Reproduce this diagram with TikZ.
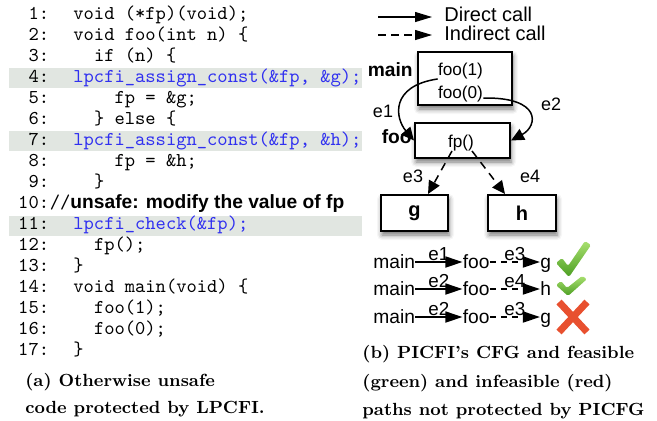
\documentclass[tikz,border=0pt]{standalone}
\usepackage{fontspec}
\usetikzlibrary{arrows.meta,positioning,shadows.blur}
\newfontfamily\cfgfont{Liberation Sans}
\definecolor{LPBand}{HTML}{E1E6E1}
\definecolor{LPBlue}{HTML}{3030F0}
\definecolor{OkTop}{HTML}{A9E070}
\definecolor{OkBot}{HTML}{4C9E22}
\definecolor{BadRed}{HTML}{E8502F}

\tikzset{
  lnum/.style={anchor=base east, inner sep=0pt, font=\ttfamily\fontsize{9.8}{10.5}\selectfont},
  code/.style={anchor=base west, inner sep=0pt, font=\ttfamily\fontsize{9.8}{10.5}\selectfont},
  ind/.style={xshift=11.75pt+#1*5.15pt},
  guard/.style={code, ind=0, text=LPBlue},
  caption/.style={anchor=base west, inner sep=0pt, font=\bfseries\fontsize{8.8}{13.5}\selectfont},
  % call graph
  cfgbox/.style={draw, line width=1pt, fill=white, inner sep=0pt,
    blur shadow={shadow xshift=0.5pt, shadow yshift=-2pt, shadow blur radius=2.5pt, shadow opacity=55}},
  boxtxt/.style={inner sep=0pt, font=\cfgfont\fontsize{8.6}{9}\selectfont},
  fnlbl/.style={inner sep=0pt, font=\cfgfont\bfseries\fontsize{9.6}{10}\selectfont},
  elbl/.style={inner sep=0pt, font=\cfgfont\fontsize{9}{10}\selectfont},
  direct/.style={line width=0.75pt, -{Triangle[length=6.5pt,width=6pt]}},
  indirect/.style={direct, dash pattern=on 4pt off 3pt},
  % legend and paths
  legtxt/.style={anchor=base west, inner sep=0pt, font=\cfgfont\fontsize{10}{11}\selectfont},
  legcall/.style={line width=0.55pt, -{Triangle[length=8.5pt,width=5pt]}},
  pathtxt/.style={inner sep=0pt, text height=0.6em, text depth=0pt, font=\cfgfont\fontsize{9.6}{10}\selectfont},
  plbl/.style={above=0.3pt, inner sep=0pt, font=\cfgfont\fontsize{9.4}{10}\selectfont},
  rowcall/.style={line width=0.85pt, -{Triangle[length=8.5pt,width=5.5pt]}},
  rowicall/.style={rowcall, dash pattern=on 3pt off 2.5pt},
}

\begin{document}
\begin{tikzpicture}[x=0.5pt,y=-0.5pt]
\path[use as bounding box] (0,0) rectangle (657,420);

% highlighted check lines
\foreach \n in {4,7,11}
  \fill[LPBand] (9,{19+21.06*(\n-1)-14}) rectangle (362,{19+21.06*(\n-1)+6});

% line numbers
\foreach \n in {1,...,17}
  \node[lnum] (ln\n) at (49.5,{19+21.06*(\n-1)}) {\n:};

% source code
\node[code, ind=0] (c1) at (ln1.base east) {void (*fp)(void);};
\node[code, ind=0] (c2) at (ln2.base east) {void foo(int n) \{};
\node[code, ind=2] (c3) at (ln3.base east) {if (n) \{};
\node[guard] (c4) at (ln4.base east) {lpcfi\_assign\_const(\&fp, \&g);};
\node[code, ind=4] (c5) at (ln5.base east) {fp = \&g;};
\node[code, ind=2] (c6) at (ln6.base east) {\} else \{};
\node[guard] (c7) at (ln7.base east) {lpcfi\_assign\_const(\&fp, \&h);};
\node[code, ind=4] (c8) at (ln8.base east) {fp = \&h;};
\node[code, ind=2] (c9) at (ln9.base east) {\}};
\node[code] (c10) at (ln10.base east) {//{\cfgfont\bfseries\fontsize{9.6}{10}\selectfont unsafe: modify the value of fp}};
\node[guard] (c11) at (ln11.base east) {lpcfi\_check(\&fp);};
\node[code, ind=2] (c12) at (ln12.base east) {fp();};
\node[code, ind=0] (c13) at (ln13.base east) {\}};
\node[code, ind=0] (c14) at (ln14.base east) {void main(void) \{};
\node[code, ind=2] (c15) at (ln15.base east) {foo(1);};
\node[code, ind=2] (c16) at (ln16.base east) {foo(0);};
\node[code, ind=0] (c17) at (ln17.base east) {\}};

\node[caption] (capa1) at (25,386) {(a) Otherwise unsafe};
\node[caption] (capa2) at (25,413) {code protected by LPCFI.};

% legend
\coordinate (dcs) at (378,17);
\coordinate (dce) at (432,17);
\coordinate (ics) at (378,35);
\coordinate (ice) at (432,35);
\node[legtxt] (dclbl) at (444,21.5) {Direct call};
\node[legtxt] (iclbl) at (444,40) {Indirect call};
\draw[legcall] (dcs) -- (dce);
\draw[legcall, dash pattern=on 4pt off 2.5pt] (ics) -- (ice);

% call graph
\node[cfgbox, minimum width=47pt, minimum height=26.5pt] (mainfn) at (465,78.5) {};
\node[boxtxt, anchor=base] (call1) at (460.5,75) {foo(1)};
\node[boxtxt, anchor=base] (call0) at (460.5,98) {foo(0)};
\node[fnlbl, anchor=base east] (mainlbl) at (413,76) {main};

\node[cfgbox, minimum width=47.5pt, minimum height=17.5pt] (foofn) at (462.5,140.5) {};
\node[boxtxt, anchor=base] (fpcall) at (461,147) {fp()};
\node[fnlbl, anchor=base east] (foolbl) at (412,143) {foo};

\node[cfgbox, minimum width=33.5pt, minimum height=18pt, font=\cfgfont\bfseries\fontsize{10}{11}\selectfont] (gfn) at (414.5,213) {g};
\node[cfgbox, minimum width=34pt, minimum height=18pt, font=\cfgfont\bfseries\fontsize{10}{11}\selectfont] (hfn) at (522,213) {h};

\draw[direct] (call1.south west) .. controls (390,86) and (395,118) .. (foofn.west);
\draw[direct] (call0.base east) .. controls (542,97) and (538,126) .. (foofn.east);
\draw[indirect] ([xshift=-4.5pt]fpcall.south) -- ([xshift=6.75pt]gfn.north);
\draw[indirect] ([xshift=5.5pt]fpcall.south) -- ([xshift=-8.5pt]hfn.north);

\node[elbl] (e1lbl) at (383,111) {e1};
\node[elbl] (e2lbl) at (551,104) {e2};
\node[elbl] (e3lbl) at (413,176) {e3};
\node[elbl] (e4lbl) at (530,176) {e4};

% paths through the graph
\node[pathtxt, anchor=base west] (r1main) at (373,268) {main};
\node[pathtxt, base right=23.5pt of r1main] (r1foo) {foo};
\node[pathtxt, base right=25pt of r1foo] (r1g) {g};
\draw[rowcall] (r1main) -- node[plbl] {e1} (r1foo);
\draw[rowicall] (r1foo) -- node[plbl] {e3} (r1g);

\node[pathtxt, anchor=base west] (r2main) at (373,295) {main};
\node[pathtxt, base right=23.5pt of r2main] (r2foo) {foo};
\node[pathtxt, base right=25pt of r2foo] (r2h) {h};
\draw[rowcall] (r2main) -- node[plbl] {e2} (r2foo);
\draw[rowicall] (r2foo) -- node[plbl] {e4} (r2h);

\node[pathtxt, anchor=base west] (r3main) at (373,323) {main};
\node[pathtxt, base right=23.5pt of r3main] (r3foo) {foo};
\node[pathtxt, base right=25pt of r3foo] (r3g) {g};
\draw[rowcall] (r3main) -- node[plbl] {e2} (r3foo);
\draw[rowicall] (r3foo) -- node[plbl] {e3} (r3g);

% feasible / infeasible marks
\shade[top color=OkTop, bottom color=OkBot, rounded corners=0.8pt]
  (556,263) -- (562,258) -- (568,266) -- (585,241) -- (591,245) -- (569,277) -- cycle;
\shade[top color=OkTop, bottom color=OkBot, rounded corners=0.8pt]
  (556,285) -- (561,281) -- (567,288) -- (582,276) -- (587,279) -- (568,296) -- cycle;
\draw[BadRed, line width=3.5pt] (559,302) -- (587,332) (587,302) -- (559,332);

\node[caption] (capb1) at (362,358) {(b) PICFI’s CFG and feasible};
\node[caption] (capb2) at (362,387) {(green) and infeasible (red)};
\node[caption] (capb3) at (362,415) {paths not protected by PICFG};
\end{tikzpicture}
\end{document}
